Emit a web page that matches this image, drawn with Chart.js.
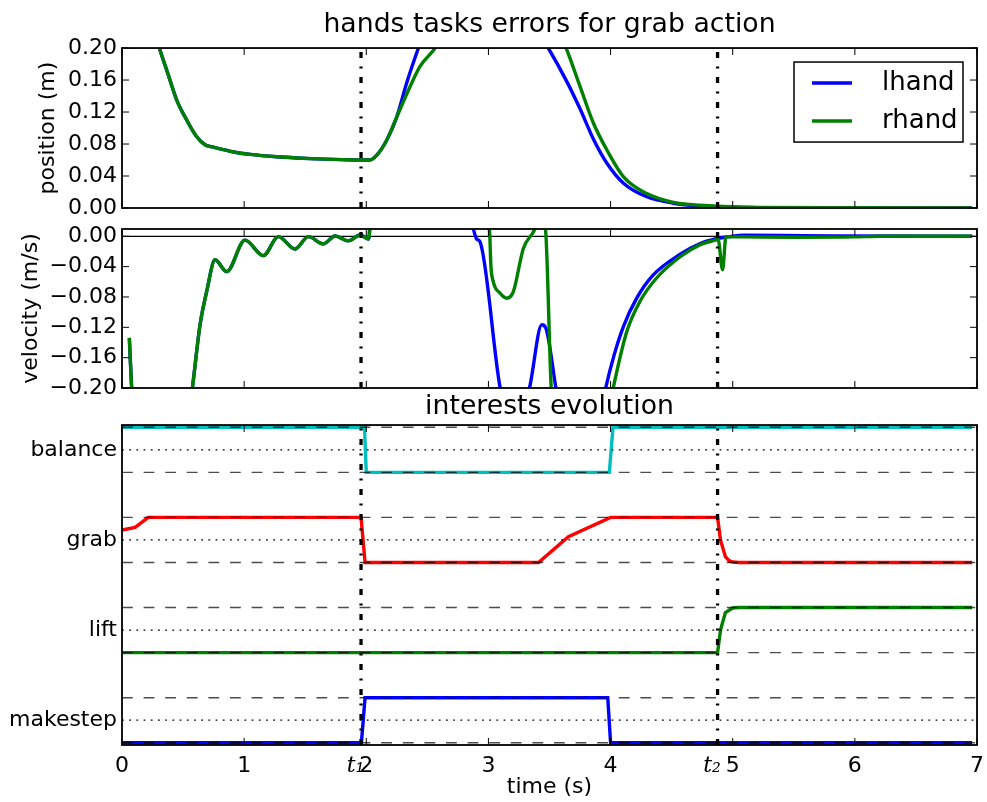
<!DOCTYPE html>
<html>
<head>
<meta charset="utf-8">
<script src="https://cdn.jsdelivr.net/npm/chart.js@4.4.1/dist/chart.umd.min.js"></script>
<style>
body { margin: 0; background: #fff; width: 987px; height: 802px; overflow: hidden; }
canvas { position: absolute; left: 0; }
</style>
</head>
<body>
<canvas id="pos" width="987" height="224" style="top:0px"></canvas>
<canvas id="vel" width="987" height="190" style="top:216px"></canvas>
<canvas id="int" width="987" height="418" style="top:384px"></canvas>
<script>
// event times
var T1 = 1.957, T2 = 4.876;

// ticks
var xTicks = [0, 1, 2, 3, 4, 5, 6, 7];
var posTicks = [0, 0.04, 0.08, 0.12, 0.16, 0.20];
var velTicks = [-0.20, -0.16, -0.12, -0.08, -0.04, 0.00];
var interestNames = ['makestep', 'lift', 'grab', 'balance'];
var interestTicks = [0.5, 2.5, 4.5, 6.5];
var dashedLevels = [0, 1, 2, 3, 4, 5, 6, 7];

// position error (m)
var posTimeL = [0, 0.1, 0.2, 0.25, 0.306, 0.366, 0.448, 0.53, 0.612, 0.68, 0.748, 0.83, 0.912, 1.05, 1.267, 1.43, 1.595, 1.8, 1.96, 2.03, 2.086, 2.168, 2.25, 2.33, 2.427, 2.6, 3.0, 3.3, 3.49, 3.642, 3.75, 3.86, 3.97, 4.106, 4.297, 4.515, 4.84, 5.2, 6.0, 6.96];
var posL = [0.38, 0.32, 0.26, 0.23, 0.20, 0.1725, 0.135, 0.11, 0.089, 0.079, 0.076, 0.073, 0.070, 0.067, 0.064, 0.0625, 0.0614, 0.0605, 0.060, 0.060, 0.066, 0.085, 0.114, 0.156, 0.20, 0.27, 0.32, 0.245, 0.20, 0.158, 0.124, 0.086, 0.056, 0.031, 0.014, 0.006, 0.0016, 0.0005, 0.0002, 0.0001];
var posTimeR = [0, 0.1, 0.2, 0.25, 0.306, 0.366, 0.448, 0.53, 0.612, 0.68, 0.748, 0.83, 0.912, 1.05, 1.267, 1.43, 1.595, 1.8, 1.96, 2.03, 2.086, 2.168, 2.25, 2.359, 2.44, 2.564, 2.8, 3.2, 3.5, 3.636, 3.75, 3.86, 3.97, 4.106, 4.297, 4.515, 4.84, 5.2, 6.0, 6.96];
var posR = [0.38, 0.32, 0.26, 0.23, 0.20, 0.1725, 0.135, 0.11, 0.089, 0.079, 0.076, 0.073, 0.070, 0.067, 0.064, 0.0625, 0.0614, 0.0605, 0.060, 0.060, 0.066, 0.085, 0.114, 0.152, 0.177, 0.20, 0.26, 0.30, 0.245, 0.20, 0.152, 0.106, 0.0725, 0.039, 0.018, 0.007, 0.0025, 0.0008, 0.0003, 0.0002];

// velocity error (m/s)
var velTimeL = [0.06, 0.079, 0.2, 0.4, 0.576, 0.639, 0.693, 0.762, 0.857, 1.007, 1.157, 1.28, 1.417, 1.526, 1.649, 1.745, 1.854, 1.95, 2.02, 2.035, 2.1, 2.4, 2.7, 2.85, 2.877, 2.905, 2.93, 3.096, 3.2, 3.336, 3.437, 3.47, 3.552, 3.7, 3.85, 3.96, 4.03, 4.105, 4.214, 4.35, 4.57, 4.734, 4.857, 4.95, 5.1, 5.4, 5.8, 6.96];
var velL = [-0.134, -0.20, -0.45, -0.40, -0.20, -0.1167, -0.073, -0.031, -0.0466, -0.005, -0.0255, -0.0005, -0.0167, -0.0005, -0.010, 0.0004, -0.006, 0.0017, -0.0036, 0.03, 0.2, 0.45, 0.2, 0.03, 0.0096, -0.004, -0.007, -0.20, -0.26, -0.20, -0.1167, -0.121, -0.20, -0.35, -0.29, -0.20, -0.156, -0.119, -0.0816, -0.051, -0.0237, -0.0095, -0.0036, -0.001, 0.0015, 0.0012, 0.0003, 0.0];
var velTimeR = [0.06, 0.079, 0.2, 0.4, 0.576, 0.639, 0.693, 0.762, 0.857, 1.007, 1.157, 1.28, 1.417, 1.526, 1.649, 1.745, 1.854, 1.95, 2.02, 2.035, 2.1, 2.4, 2.8, 2.98, 3.01, 3.02, 3.04, 3.095, 3.15, 3.204, 3.286, 3.38, 3.42, 3.467, 3.514, 3.7, 3.9, 4.035, 4.133, 4.24, 4.377, 4.57, 4.734, 4.857, 4.88, 4.917, 4.945, 5.5, 6.0, 6.2, 6.96];
var velR = [-0.134, -0.20, -0.45, -0.40, -0.20, -0.1167, -0.073, -0.031, -0.0466, -0.005, -0.0255, -0.0005, -0.0167, -0.0005, -0.010, 0.0004, -0.006, 0.0017, -0.0036, 0.03, 0.2, 0.4, 0.15, 0.04, 0.005, -0.038, -0.06, -0.075, -0.0816, -0.073, -0.016, 0.0096, 0.03, 0.0096, -0.20, -0.45, -0.30, -0.19, -0.1255, -0.086, -0.055, -0.027, -0.011, -0.005, -0.004, -0.0443, -0.0005, -0.0012, -0.0008, 0, 0];

// interests
var balanceTime = [0, 1.985, 2.0, 3.99, 4.02, 6.96];
var balance = [7, 7, 6, 6, 7, 7];
var grabTime = [0, 0.107, 0.215, 1.957, 1.99, 3.41, 3.655, 4.0, 4.876, 4.90, 4.94, 4.97, 5.0, 5.05, 6.96];
var grab = [4.72, 4.78, 5, 5, 4, 4, 4.57, 5, 5, 4.5, 4.13, 4.04, 4.01, 4.0, 4.0];
var liftTime = [0, 4.876, 4.90, 4.94, 5.0, 5.05, 6.96];
var lift = [2, 2, 2.5, 2.89, 2.99, 3, 3];
var stepTime = [0, 1.96, 1.99, 3.977, 4.0, 6.96];
var makestep = [0, 0, 1, 1, 0, 0];

Chart.defaults.font.family = '"DejaVu Sans"';
Chart.defaults.color = '#000';

var TICK_SIZE = 22, TITLE_SIZE = 26.7;

function pts(xs, ys) {
	return xs.map(function(x, i) { return { x: x, y: ys[i] }; });
}

function series(label, xs, ys, color, order, smooth) {
	return {
		label: label, data: pts(xs, ys), borderColor: color, borderWidth: 3.4,
		pointRadius: 0, order: order, inLegend: true,
		cubicInterpolationMode: smooth ? 'monotone' : 'default', tension: 0
	};
}

function refLine(xs, ys, color, width, dash, order) {
	return {
		label: '', data: pts(xs, ys), borderColor: color, borderWidth: width,
		borderDash: dash, pointRadius: 0, order: order, tension: 0
	};
}

function eventLines(ymin, ymax) {
	return [T1, T2].map(function(t) {
		return refLine([t, t], [ymin, ymax], '#000', 3.3, [6, 8.5, 2, 8.5], 0);
	});
}

var fmt2 = function(v) {
	return (v < -1e-9 ? '\u2212' : '') + Math.abs(v).toFixed(2);
};

function yScale(min, max, ticks, cb, title, titlePad) {
	return {
		type: 'linear', min: min, max: max,
		afterBuildTicks: function(s) { s.ticks = ticks.map(function(v) { return { value: v }; }); },
		afterFit: function(s) { s.width = 122; s.paddingTop = 0; s.paddingBottom = 0; },
		grid: { display: false, drawTicks: false },
		border: { display: false },
		ticks: { padding: 5, font: { size: TICK_SIZE }, color: '#000', callback: cb },
		title: { display: !!title, text: title || '', color: '#000', font: { size: TICK_SIZE }, padding: { top: titlePad || 0 } }
	};
}

var hiddenX = { type: 'linear', min: 0, max: 7, display: false };

// frame + inward ticks, like the old matplotlib axes
var frame = {
	id: 'frame',
	afterDatasetsDraw: function(chart, args, opts) {
		var ctx = chart.ctx, a = chart.chartArea, xs = chart.scales.x, ys = chart.scales.y;
		ctx.save();
		ctx.strokeStyle = '#000';
		ctx.lineWidth = 1;
		ctx.beginPath();
		xTicks.forEach(function(v) {
			var p = xs.getPixelForValue(v);
			ctx.moveTo(p, a.bottom); ctx.lineTo(p, a.bottom - 7);
			ctx.moveTo(p, a.top); ctx.lineTo(p, a.top + 7);
		});
		(opts.yTicks || []).forEach(function(v) {
			var p = ys.getPixelForValue(v);
			ctx.moveTo(a.left, p); ctx.lineTo(a.left + 7, p);
			ctx.moveTo(a.right, p); ctx.lineTo(a.right - 7, p);
		});
		ctx.stroke();
		ctx.lineWidth = 1.8;
		ctx.strokeRect(a.left, a.top, a.right - a.left, a.bottom - a.top);
		ctx.restore();
	}
};

var boxLegend = {
	id: 'boxLegend',
	afterDraw: function(chart, args, opts) {
		if (!opts.show) return;
		var ctx = chart.ctx, a = chart.chartArea;
		var items = chart.data.datasets.filter(function(d) { return d.inLegend; });
		var w = 169, h = 80, x = a.right - 14 - w, y = a.top + 14;
		ctx.save();
		ctx.fillStyle = '#fff';
		ctx.fillRect(x, y, w, h);
		ctx.strokeStyle = '#000';
		ctx.lineWidth = 1.5;
		ctx.strokeRect(x, y, w, h);
		ctx.font = '26px "DejaVu Sans"';
		ctx.textBaseline = 'middle';
		items.forEach(function(d, i) {
			var yy = y + 21 + i * 38;
			ctx.strokeStyle = d.borderColor;
			ctx.lineWidth = 3.4;
			ctx.beginPath(); ctx.moveTo(x + 18, yy); ctx.lineTo(x + 58, yy); ctx.stroke();
			ctx.fillStyle = '#000';
			ctx.fillText(d.label, x + 88, yy);
		});
		ctx.restore();
	}
};

var common = { responsive: false, animation: false, events: [] };

var posChart = new Chart(document.getElementById('pos'), {
	type: 'line',
	data: {
		datasets: [
			series('lhand', posTimeL, posL, '#0000ff', 2, true),
			series('rhand', posTimeR, posR, '#008000', 1, true)
		].concat(eventLines(0, 0.2))
	},
	options: Object.assign({}, common, {
		layout: { padding: { top: 0, bottom: 16, left: 0, right: 10 } },
		scales: { x: hiddenX, y: yScale(0, 0.2, posTicks, fmt2, 'position (m)', 35) },
		plugins: {
			legend: { display: false }, tooltip: { enabled: false },
			title: { display: true, fullSize: false, text: 'hands tasks errors for grab action', color: '#000', font: { size: TITLE_SIZE, weight: 'normal' }, padding: { top: 9, bottom: 7 } },
			frame: { yTicks: posTicks },
			boxLegend: { show: true }
		}
	}),
	plugins: [frame, boxLegend]
});

var velChart = new Chart(document.getElementById('vel'), {
	type: 'line',
	data: {
		datasets: [
			refLine([0, 7], [0, 0], '#000', 1.3, [], 3),
			series('lhand', velTimeL, velL, '#0000ff', 2, true),
			series('rhand', velTimeR, velR, '#008000', 1, true)
		].concat(eventLines(-0.2, 0.0096))
	},
	options: Object.assign({}, common, {
		layout: { padding: { top: 13, bottom: 18, left: 0, right: 10 } },
		scales: { x: hiddenX, y: yScale(-0.2, 0.0096, velTicks, fmt2, 'velocity (m/s)', 18) },
		plugins: {
			legend: { display: false }, tooltip: { enabled: false },
			frame: { yTicks: velTicks },
			boxLegend: { show: false }
		}
	}),
	plugins: [frame, boxLegend]
});

var xLabelTicks = xTicks.concat([T1, T2]).sort(function(a, b) { return a - b; });

var intDatasets = [
	series('balance', balanceTime, balance, '#00bfbf', 2, false),
	series('grab', grabTime, grab, '#ff0000', 2, false),
	series('lift', liftTime, lift, '#008000', 2, false),
	series('makestep', stepTime, makestep, '#0000ff', 2, false)
];
dashedLevels.forEach(function(l) {
	intDatasets.push(refLine([0, 7], [l, l], 'rgba(0,0,0,0.7)', 1.4, [10.8, 10.8], 1));
});
interestTicks.forEach(function(l) {
	intDatasets.push(refLine([0, 7], [l, l], '#000', 1.3, [1.8, 5.4], 1));
});
intDatasets = intDatasets.concat(eventLines(-0.05, 7.05));

var intChart = new Chart(document.getElementById('int'), {
	type: 'line',
	data: { datasets: intDatasets },
	options: Object.assign({}, common, {
		layout: { padding: { top: 0, bottom: 0, left: 0, right: 10 } },
		scales: {
			x: {
				type: 'linear', min: 0, max: 7,
				afterBuildTicks: function(s) { s.ticks = xLabelTicks.map(function(v) { return { value: v }; }); },
				afterFit: function(s) { s.height = 57; s.paddingLeft = 0; s.paddingRight = 0; },
				grid: { display: false, drawTicks: false },
				border: { display: false },
				ticks: {
					autoSkip: false, maxRotation: 0, padding: 8, color: '#000',
					callback: function(v) {
						if (v === T1) return 't\u2081\u2002';
						if (v === T2) return 't\u2082\u2002';
						return String(v);
					},
					font: function(c) {
						var v = c.tick ? c.tick.value : null;
						if (v === T1 || v === T2) return { family: '"DejaVu Serif"', style: 'italic', size: 22 };
						return { size: TICK_SIZE };
					}
				},
				title: { display: true, text: 'time (s)', color: '#000', font: { size: TICK_SIZE }, padding: { top: 0, bottom: 2 } }
			},
			y: yScale(-0.05, 7.05, interestTicks, function(v, i) { return interestNames[i]; }, '', 0)
		},
		plugins: {
			legend: { display: false }, tooltip: { enabled: false },
			title: { display: true, fullSize: false, text: 'interests evolution', color: '#000', font: { size: TITLE_SIZE, weight: 'normal' }, padding: { top: 7, bottom: 2 } },
			frame: { yTicks: [] },
			boxLegend: { show: false }
		}
	}),
	plugins: [frame, boxLegend]
});
</script>
</body>
</html>
